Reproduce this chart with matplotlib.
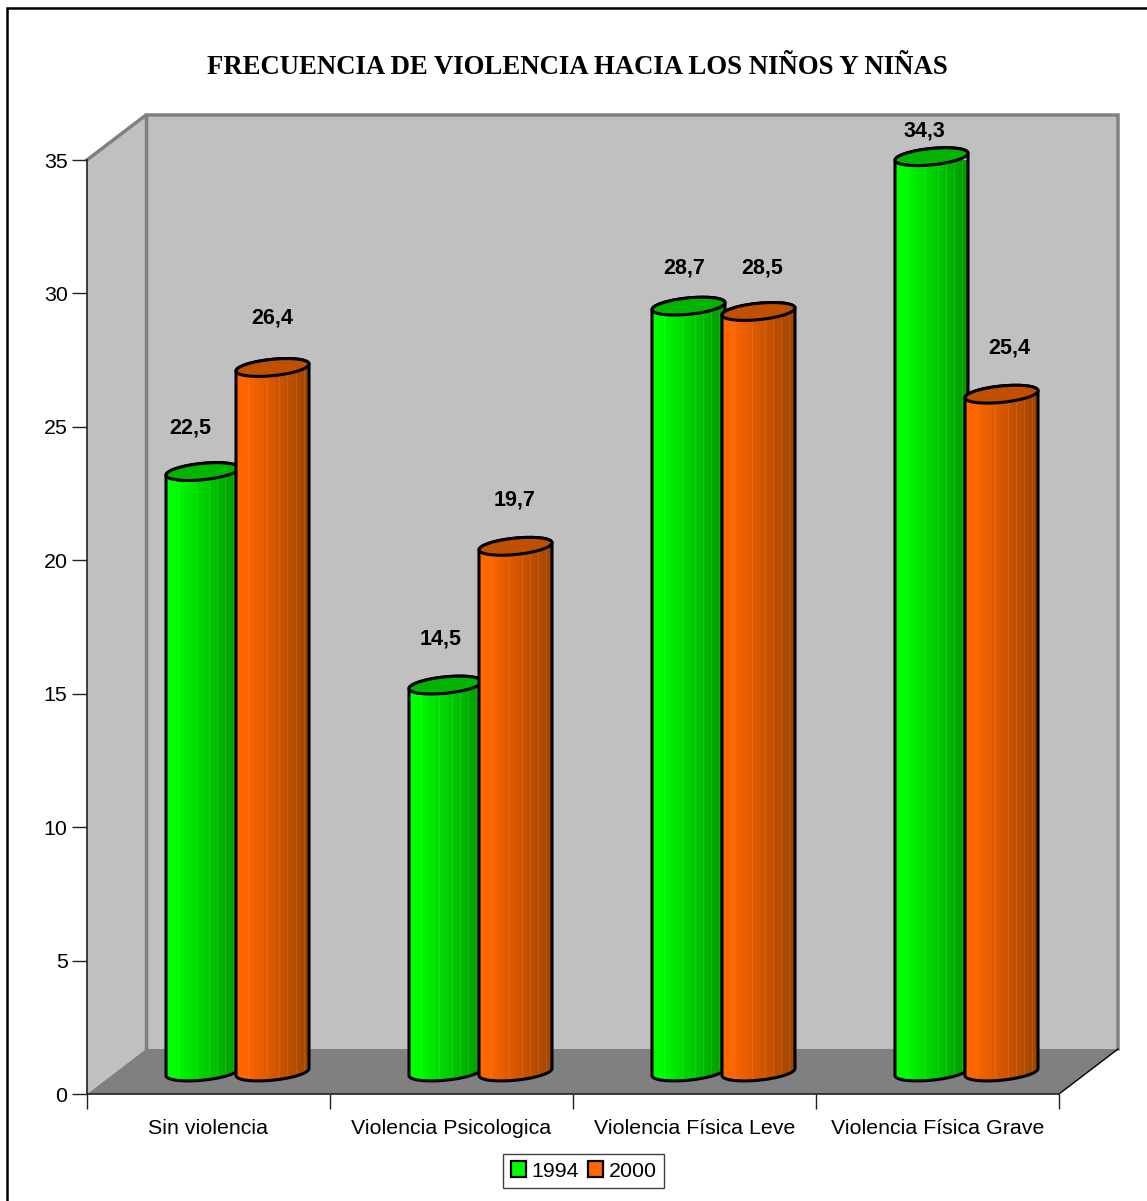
import numpy as np
import matplotlib
matplotlib.use('Agg')
import matplotlib.pyplot as plt
from matplotlib.lines import Line2D
from matplotlib.patches import PathPatch, Patch
from matplotlib.path import Path
from matplotlib.colors import LinearSegmentedColormap

categories = ['Sin violencia', 'Violencia Psicologica', 'Violencia Física Leve', 'Violencia Física Grave']
values_1994 = [22.5, 14.5, 28.7, 34.3]
values_2000 = [26.4, 19.7, 28.5, 25.4]
y_ticks = [0, 5, 10, 15, 20, 25, 30, 35]

# label nudges in pixels, (right, up) from the top of each cylinder
nudge_1994 = [(-12, 44), (-5, 46), (-4, 38), (-7, 26)]
nudge_2000 = [(0, 49), (-1, 46), (4, 43), (8, 46)]

W, H = 1147, 1201
fig = plt.figure(figsize=(W / 100, H / 100), dpi=100, facecolor='white')
ax = fig.add_axes([87 / W, 1 - 1094 / H, 972 / W, 934 / H])
ax.set_xlim(0, 4)
ax.set_ylim(0, 35)
ax.set_facecolor('none')

# data units per pixel
px = 4 / 972
py = 35 / 934
depth_x = 59 * px
depth_y = 45 * py

# outer frame, only left and top edges fall inside the image
fig.add_artist(Line2D([7 / W, 7 / W, 1], [0, 1 - 8 / H, 1 - 8 / H], transform=fig.transFigure,
                      color='black', lw=1.8, solid_joinstyle='miter'))

fig.text(577 / W, 1 - 67 / H, 'FRECUENCIA DE VIOLENCIA HACIA LOS NIÑOS Y NIÑAS',
         family='Liberation Serif', weight='bold', fontsize=19.25, ha='center', va='center')

# walls and floor
ax.fill([0, depth_x, depth_x, 0], [0, depth_y, 35 + depth_y, 35], fc='#c0c0c0', ec='none', clip_on=False, zorder=1)
ax.fill([depth_x, 4 + depth_x, 4 + depth_x, depth_x], [depth_y, depth_y, 35 + depth_y, 35 + depth_y],
        fc='#c0c0c0', ec='none', clip_on=False, zorder=1)
ax.fill([0, 4, 4 + depth_x, depth_x], [0, 0, depth_y, depth_y], fc='#808080', ec='none', clip_on=False, zorder=1.1)
ax.plot([0, depth_x, 4 + depth_x, 4 + depth_x], [35, 35 + depth_y, 35 + depth_y, depth_y],
        color='#808080', lw=2.5, clip_on=False, zorder=1.2, solid_joinstyle='miter')
ax.plot([depth_x, depth_x], [depth_y, 35 + depth_y], color='#808080', lw=2.5, clip_on=False, zorder=1.2)
ax.plot([4, 4 + depth_x], [0, depth_y], color='black', lw=1, clip_on=False, zorder=1.2)


def make_cmap(light, dark):
    stops = np.linspace(0, 1, 72)
    base = LinearSegmentedColormap.from_list('body', [(0, light), (0.12, light), (1, dark)])
    table = [np.array(base(s)) for s in stops]
    # thin paler seams between the facets of the cylinder
    for i in [12, 30, 42, 50, 58, 66]:
        table[i] = 0.9 * table[i] + 0.1
    return LinearSegmentedColormap.from_list('facets', [tuple(c) for c in table], N=72), stops


def ellipse(cx, cy, t):
    # slightly sheared ellipse, right end sits higher than the left
    x = cx + 36.5 * px * np.cos(t)
    y = cy - 8.2 * py * np.sin(t) + 3.5 * py * np.cos(t)
    return x, y


def cylinder(center, value, light, dark, top, order):
    base = 22 * py
    t_low = np.linspace(np.pi, 0, 50)
    t_up = np.linspace(2 * np.pi, np.pi, 50)
    xb, yb = ellipse(center, base, t_low)
    xt, yt = ellipse(center, base + value, t_up)
    verts = np.column_stack([np.r_[xb, xt], np.r_[yb, yt]])
    body = Path(np.vstack([verts, verts[0]]), closed=True)

    cmap, stops = make_cmap(light, dark)
    im = ax.imshow(stops.reshape(1, -1), cmap=cmap, aspect='auto', zorder=order,
                   extent=[center - 36.5 * px, center + 36.5 * px, base - 10 * py, base + value + 10 * py],
                   interpolation='nearest', clip_on=True)
    outline = PathPatch(body, fc='none', ec='black', lw=2.2, zorder=order + 0.1, clip_on=False)
    ax.add_patch(outline)
    im.set_clip_path(PathPatch(body, transform=ax.transData))

    t = np.linspace(0, 2 * np.pi, 100)
    xe, ye = ellipse(center, base + value, t)
    ax.fill(xe, ye, fc=top, ec='black', lw=2.2, zorder=order + 0.2, clip_on=False)


offset_x = 29 * px
bar_step = 35 * px
for i in range(len(categories)):
    mid = i + 0.5 + offset_x
    cylinder(mid - bar_step, values_1994[i], '#00ff00', '#009800', '#00b400', 3 + i)
    cylinder(mid + bar_step, values_2000[i], '#ff6600', '#a04400', '#c05000', 3.5 + i)

    for center, value, nudge in [(mid - bar_step, values_1994[i], nudge_1994[i]),
                                 (mid + bar_step, values_2000[i], nudge_2000[i])]:
        ax.text(center + nudge[0] * px, 22 * py + value + nudge[1] * py, f'{value:.1f}'.replace('.', ','),
                family='Liberation Sans', weight='bold', fontsize=15.5, ha='center', va='center',
                color='black', zorder=20)

ax.set_xlim(0, 4)
ax.set_ylim(0, 35)

for side in ['top', 'right']:
    ax.spines[side].set_visible(False)
for side in ['left', 'bottom']:
    ax.spines[side].set_color('#222222')
    ax.spines[side].set_linewidth(1.2)
    ax.spines[side].set_zorder(2)

ax.set_yticks(y_ticks)
ax.set_xticks(range(5))
ax.set_xticklabels([])
ax.set_xticks(np.arange(4) + 0.5, categories, minor=True)
ax.tick_params(axis='x', which='major', length=11, width=1, color='#222222')
ax.tick_params(axis='x', which='minor', length=0, pad=18, labelsize=15.4, labelfontfamily='Liberation Sans')
ax.tick_params(axis='y', length=11, width=1, color='#222222', pad=3, labelsize=15.4, labelfontfamily='Liberation Sans')

handles = [Patch(fc='#00ff00', ec='black', lw=1.6, label='1994'), Patch(fc='#ff6600', ec='black', lw=1.6, label='2000')]
leg = fig.legend(handles=handles, ncol=2, loc='center', bbox_to_anchor=(583.5 / W, 1 - 1171 / H),
                 prop={'family': 'Liberation Sans', 'size': 15.4}, fancybox=False, framealpha=1,
                 edgecolor='#404040', handlelength=0.7, handleheight=0.75, handletextpad=0.25,
                 columnspacing=0.45, borderpad=0.35, borderaxespad=0)
leg.get_frame().set_linewidth(1)

fig.savefig('out.png', dpi=100)
